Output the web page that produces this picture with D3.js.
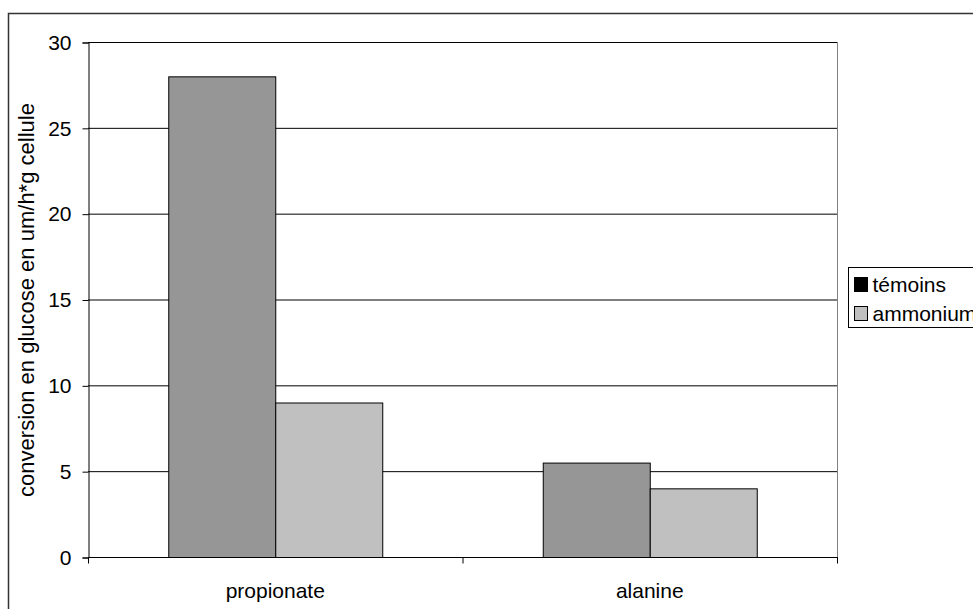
<!DOCTYPE html>
<html><head><meta charset="utf-8">
<script src="https://cdn.jsdelivr.net/npm/d3@7"></script>
<style>body{margin:0;background:#fff}svg{display:block;font-family:"Liberation Sans",Arial,sans-serif}</style>
</head><body><svg id="c" width="973" height="609"></svg>
<script>
const categories = ["propionate", "alanine"];
const seriesNames = ["témoins", "ammonium"];
const temoins = [28, 5.5];
const ammonium = [9, 4];
const yTicks = [0, 5, 10, 15, 20, 25, 30];
const yLabel = "conversion en glucose en um/h*g cellule";

const FS = 21;
const svg = d3.select("#c");
const m = {l: 88, r: 837, t: 42, b: 557};
svg.append("rect").attr("x", 8.5).attr("y", 13.5).attr("width", 1000).attr("height", 700)
  .attr("fill", "#fff").attr("stroke", "#333").attr("stroke-width", 1.5);

const x = d3.scaleBand().domain(categories).range([m.l, m.r]);
const y = d3.scaleLinear().domain([0, 30]).range([m.b, m.t]);
const colors = {"témoins": "#969696", "ammonium": "#c0c0c0"};
const legendColors = {"témoins": "#000000", "ammonium": "#c0c0c0"};

// gridlines
svg.append("g").selectAll("line").data(yTicks.filter(d => d > 0)).join("line")
  .attr("x1", m.l).attr("x2", m.r).attr("y1", d => y(d) + 0.5).attr("y2", d => y(d) + 0.5)
  .attr("stroke", "#000").attr("stroke-width", 1);
// right border of plot
svg.append("line").attr("x1", m.r + 0.5).attr("x2", m.r + 0.5).attr("y1", m.t).attr("y2", m.b)
  .attr("stroke", "#808080").attr("stroke-width", 1);

// bars
const bw = x.bandwidth() / 3.5;
const data = [];
categories.forEach((c, i) => {
  data.push({c, s: "témoins", v: temoins[i], k: 0});
  data.push({c, s: "ammonium", v: ammonium[i], k: 1});
});
svg.append("g").selectAll("rect").data(data).join("rect")
  .attr("x", d => x(d.c) + bw * 0.75 + d.k * bw + 0.5)
  .attr("y", d => y(d.v) + 0.5)
  .attr("width", bw)
  .attr("height", d => y(0) - y(d.v))
  .attr("fill", d => colors[d.s]).attr("stroke", "#000").attr("stroke-width", 1);

// y axis
const ya = d3.axisLeft(y).tickValues(yTicks).tickSize(6).tickPadding(11);
const gy = svg.append("g").attr("transform", `translate(${m.l + 0.5},0.5)`).call(ya);
gy.select(".domain").attr("stroke", "#000");
gy.selectAll("text").attr("font-size", FS).attr("fill", "#000").attr("font-family", "Liberation Sans, Arial, sans-serif");

// x axis
const gx = svg.append("g").attr("transform", `translate(0,${m.b + 0.5})`);
gx.append("line").attr("x1", m.l).attr("x2", m.r + 1).attr("stroke", "#000");
const xTickPos = [m.l, x(categories[1]), m.r];
gx.selectAll("line.t").data(xTickPos).join("line").attr("class", "t")
  .attr("x1", d => d + 0.5).attr("x2", d => d + 0.5).attr("y1", 0).attr("y2", 6).attr("stroke", "#000");
gx.selectAll("text").data(categories).join("text")
  .attr("x", d => x(d) + x.bandwidth() / 2).attr("y", 40)
  .attr("text-anchor", "middle").attr("font-size", FS).text(d => d);

// y label
svg.append("text").attr("transform", `translate(34,300) rotate(-90)`)
  .attr("text-anchor", "middle").attr("font-size", 22).text(yLabel);

// legend
const lg = svg.append("g").attr("transform", "translate(848.5,267.5)");
lg.append("rect").attr("width", 150).attr("height", 60).attr("fill", "#fff").attr("stroke", "#000");
seriesNames.forEach((s, i) => {
  lg.append("rect").attr("x", 6).attr("y", 10 + i * 29).attr("width", 13).attr("height", 14)
    .attr("fill", legendColors[s]).attr("stroke", "#000");
  lg.append("text").attr("x", 24).attr("y", 24 + i * 29).attr("font-size", FS).text(s);
});
</script></body></html>
